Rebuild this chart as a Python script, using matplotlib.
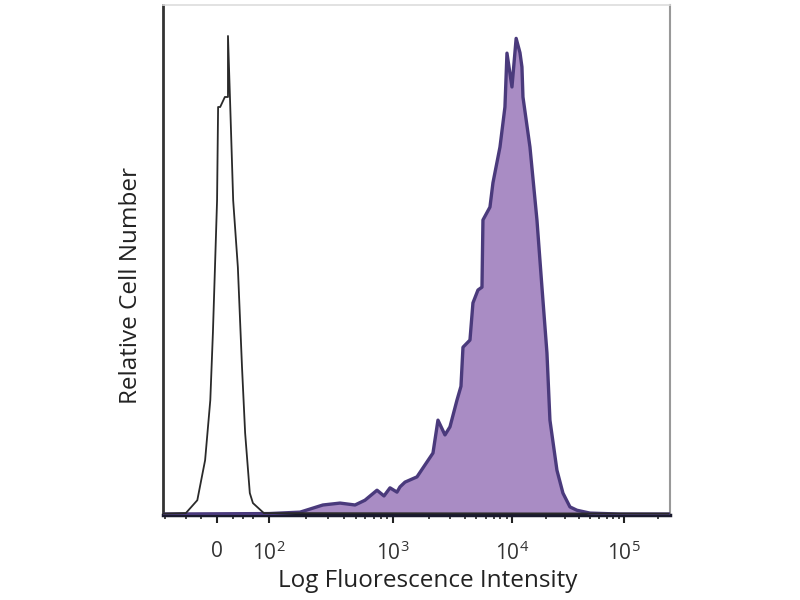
import numpy as np
import matplotlib
matplotlib.use("Agg")
import matplotlib.pyplot as plt
from matplotlib.ticker import FixedLocator, NullLocator

# ---- data (fluorescence intensity, % of max cell count) ----
isotype_x = [-104, -60, -38, -23, -13, -8, -4, 0, 2, 6, 15, 21, 21, 25, 31, 40, 48, 54, 63, 69, 90, 2.5e5]
isotype_y = [0.3, 0.4, 3.1, 11.5, 24.1, 38.2, 52.0, 66.0, 85.6, 85.6, 87.7, 87.7, 100.5, 87.0, 66.0, 52.0, 31.0, 17.2, 4.6, 2.5, 0.4, 0.3]

stained_x = [-104, 100, 178, 272, 374, 494, 594, 743, 846, 946, 1080, 1145, 1262, 1591, 1857,
             2168, 2388, 2735, 3013, 3450, 3727, 3875, 4436, 4700, 5179, 5597, 5704, 6532,
             6923, 7930, 8730, 9080, 10000, 10900, 11790, 12280, 12540, 14480, 16720, 18530,
             20540, 21840, 25220, 28530, 32960, 38040, 49700, 92000, 2.5e5]
stained_y = [0.2, 0.3, 0.6, 2.1, 2.5, 2.1, 3.1, 5.2, 4.0, 5.7, 4.8, 5.9, 6.9, 8.0, 10.5,
             13.0, 19.9, 16.8, 18.5, 24.1, 27.0, 35.2, 36.7, 44.5, 47.2, 47.8, 61.9, 64.6,
             69.7, 77.2, 85.6, 96.9, 89.8, 100.0, 97.0, 94.0, 87.7, 77.2, 61.9, 47.8,
             34.0, 19.9, 9.4, 4.6, 1.7, 1.0, 0.4, 0.2, 0.2]

major_ticks = [0, 1e2, 1e3, 1e4, 1e5]
major_labels = ["0", r"$10^2$", r"$10^3$", r"$10^4$", r"$10^5$"]
minor_ticks = ([-100, -60, -30, 30, 50, 70]
               + [m * 10 ** d for d in (2, 3, 4) for m in range(2, 10)]
               + [2e5])

# ---- logicle-like display scale ----
_anc_log = [2, 3, 4, 5, 6]
_anc_pos = [52, 176, 295, 407, 519]

def fwd(v):
    v = np.asarray(v, dtype=float)
    lin = v / 100.0 * 52
    lg = np.interp(np.log10(np.maximum(v, 100.0)), _anc_log, _anc_pos)
    return np.where(v < 100, lin, lg)

def inv(u):
    u = np.asarray(u, dtype=float)
    lin = u / 52.0 * 100
    lg = 10 ** np.interp(np.maximum(u, 52.0), _anc_pos, _anc_log)
    return np.where(u < 52, lin, lg)

plt.rcParams['font.family'] = ['Open Sans', 'DejaVu Sans']
plt.rcParams['mathtext.fontset'] = 'custom'
plt.rcParams['mathtext.rm'] = 'Open Sans'
plt.rcParams['mathtext.it'] = 'Open Sans'

fig = plt.figure(figsize=(8, 6), dpi=100)
ax = fig.add_axes([163 / 800, 1 - 515 / 600, (670 - 163) / 800, (515 - 5) / 600])
ax.set_xscale('function', functions=(fwd, inv))

fill_col = "#a98cc4"
edge_col = "#4a3a7c"

ax.fill_between(stained_x, stained_y, 0, color=fill_col, lw=0, zorder=2)
ax.plot(stained_x, stained_y, color=edge_col, lw=2.4, zorder=3)
ax.plot(isotype_x, isotype_y, color="#2a2a2a", lw=1.3, zorder=4)

ax.set_xlim(-104, 2.58e5)
ax.set_ylim(0, 107)

ax.xaxis.set_major_locator(FixedLocator(major_ticks))
ax.set_xticklabels(major_labels)
ax.xaxis.set_minor_locator(FixedLocator(minor_ticks))
ax.yaxis.set_major_locator(NullLocator())
ax.yaxis.set_minor_locator(NullLocator())

ax.tick_params(axis='x', which='major', length=6, width=1.5, color='#222222',
               direction='out', pad=13, labelsize=15, labelcolor='#333333')
ax.tick_params(axis='x', which='minor', length=3, width=1.2, color='#222222', direction='out')

for side, col, lw in (("left", "#333333", 2.0), ("bottom", "#1a1a2e", 2.5),
                      ("top", "#dddddd", 1.2), ("right", "#999999", 1.5)):
    ax.spines[side].set_color(col)
    ax.spines[side].set_linewidth(lw)

ax.set_xlabel("Log Fluorescence Intensity", fontsize=17.5, color='#222222')
ax.set_ylabel("Relative Cell Number", fontsize=17.5, color='#222222')
ax.xaxis.set_label_coords(0.523, -0.106)
ax.yaxis.set_label_coords(-0.04, 0.45)

fig.savefig("out.png", dpi=100)
